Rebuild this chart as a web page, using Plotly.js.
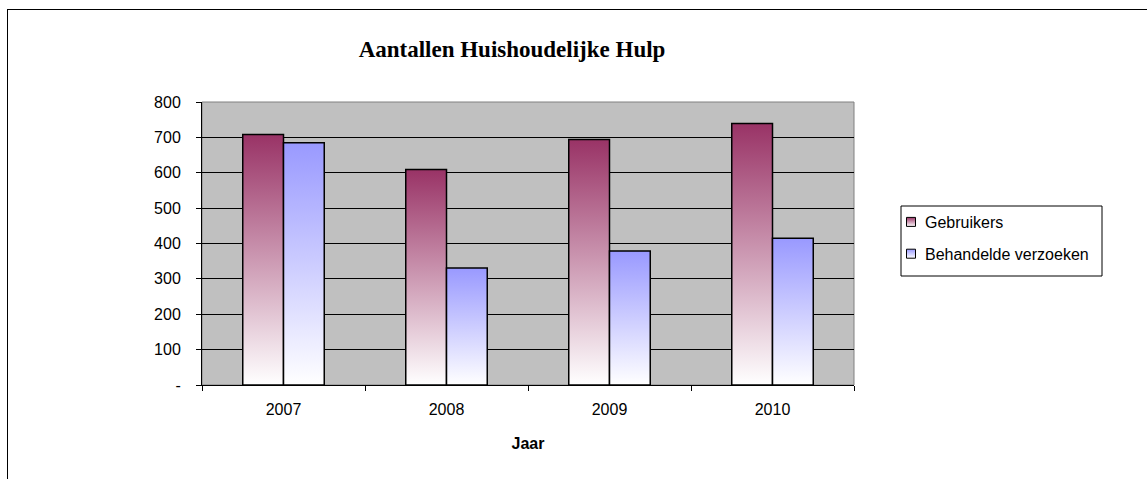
<!DOCTYPE html>
<html>
<head>
<meta charset="utf-8">
<script src="https://cdn.plot.ly/plotly-3.0.1.min.js"></script>
<style>
  html, body { margin: 0; padding: 0; background: #fff; }
  #chart { width: 1147px; height: 479px; position: relative; }
  #frame { position: absolute; left: 7px; top: 9px; width: 1200px; height: 600px;
           border-left: 1px solid #000; border-top: 1px solid #000; pointer-events: none; }
</style>
</head>
<body>
<div id="chart"></div>
<div id="frame"></div>
<script>
const years = ['2007', '2008', '2009', '2010'];
const gebruikers = [708, 609, 694, 739];
const behandeldeVerzoeken = [685, 331, 379, 415];
const yTickVals = [0, 100, 200, 300, 400, 500, 600, 700, 800];
const yTickText = ['-', '100', '200', '300', '400', '500', '600', '700', '800'];

const sans = 'Liberation Sans, Arial, sans-serif';

const traces = [
  {
    type: 'bar', name: 'Gebruikers', x: years, y: gebruikers,
    marker: { color: '#993366', line: { color: '#000', width: 1.5 } },
    legendgroup: 'g1', hoverinfo: 'x+y'
  },
  {
    type: 'bar', name: 'Behandelde verzoeken', x: years, y: behandeldeVerzoeken,
    marker: { color: '#9999FF', line: { color: '#000', width: 1.5 } },
    legendgroup: 'g2', hoverinfo: 'x+y'
  }
];

const layout = {
  width: 1147, height: 479,
  margin: { l: 202, r: 293, t: 102, b: 94 },
  paper_bgcolor: '#ffffff',
  plot_bgcolor: '#C0C0C0',
  barmode: 'group', bargap: 0.5, bargroupgap: 0,
  font: { family: sans, size: 16, color: '#000' },
  title: {
    text: '<b>Aantallen Huishoudelijke Hulp</b>',
    font: { family: 'Liberation Serif, Times New Roman, serif', size: 23, color: '#000' },
    x: 512 / 1147, xanchor: 'center', y: 1 - 49 / 479, yanchor: 'middle',
    xref: 'container', yref: 'container'
  },
  xaxis: {
    type: 'category',
    tickson: 'boundaries', ticks: 'outside', ticklen: 5, tickcolor: '#000', tickwidth: 1,
    showline: true, linecolor: '#000', linewidth: 1,
    showgrid: false, zeroline: false,
    tickfont: { family: sans, size: 16 },
    ticklabelstandoff: 10,
    title: { text: '<b>Jaar</b>', font: { family: sans, size: 16 }, standoff: 20 }
  },
  yaxis: {
    range: [0, 800], tickvals: yTickVals, ticktext: yTickText,
    ticks: 'outside', ticklen: 5, tickcolor: '#000', tickwidth: 1,
    showline: true, linecolor: '#000', linewidth: 1,
    showgrid: true, gridcolor: '#000', gridwidth: 1, zeroline: false,
    tickfont: { family: sans, size: 16 },
    ticklabelstandoff: 12
  },
  legend: {
    x: (885 - 202) / 652, xanchor: 'left',
    y: (385 - 205) / 283, yanchor: 'top',
    bgcolor: 'rgba(0,0,0,0)', borderwidth: 0,
    font: { family: sans, size: 16 },
    traceorder: 'grouped', tracegroupgap: 8
  },
  shapes: [
    { type: 'rect', xref: 'paper', yref: 'paper', x0: 0, x1: 1, y0: 0, y1: 1,
      line: { color: '#808080', width: 1 }, layer: 'below' },
    { type: 'rect', xref: 'paper', yref: 'paper',
      x0: (901 - 202) / 652, x1: (1102 - 202) / 652,
      y0: (385 - 276) / 283, y1: (385 - 206) / 283,
      line: { color: '#000', width: 1 }, fillcolor: '#fff', layer: 'below' }
  ],
  showlegend: true
};

function addGradients(gd) {
  const svg = gd.querySelector('svg.main-svg');
  if (!svg) return;
  const ns = 'http://www.w3.org/2000/svg';
  let defs = svg.querySelector('defs');
  if (!defs) { defs = document.createElementNS(ns, 'defs'); svg.insertBefore(defs, svg.firstChild); }
  const specs = [['gradG', '#993366'], ['gradB', '#9999FF']];
  specs.forEach(([id, col]) => {
    if (svg.querySelector('#' + id)) return;
    const lg = document.createElementNS(ns, 'linearGradient');
    lg.setAttribute('id', id);
    lg.setAttribute('x1', '0'); lg.setAttribute('y1', '0');
    lg.setAttribute('x2', '0'); lg.setAttribute('y2', '1');
    const s1 = document.createElementNS(ns, 'stop');
    s1.setAttribute('offset', '0'); s1.setAttribute('stop-color', col);
    const s2 = document.createElementNS(ns, 'stop');
    s2.setAttribute('offset', '1'); s2.setAttribute('stop-color', '#ffffff');
    lg.appendChild(s1); lg.appendChild(s2);
    defs.appendChild(lg);
  });
  const ids = ['gradG', 'gradB'];
  gd.querySelectorAll('.barlayer .trace').forEach((t, i) => {
    t.querySelectorAll('path').forEach(p => { p.style.fill = 'url(#' + ids[i] + ')'; });
  });
  gd.querySelectorAll('.legend .traces').forEach((t, i) => {
    t.querySelectorAll('.legendpoints path').forEach(p => {
      p.style.fill = 'url(#' + ids[i] + ')';
      p.style.stroke = '#000';
      p.style.strokeWidth = '1px';
      if (!p.dataset.resized) {
        const tr = p.getAttribute('transform') || '';
        p.setAttribute('transform', tr + ' translate(6,0)');
        p.setAttribute('d', 'M4.5,4.5H-4.5V-4.5H4.5Z');
        p.dataset.resized = '1';
      }
    });
  });
}

const gd = document.getElementById('chart');
Plotly.newPlot(gd, traces, layout, { displayModeBar: false, staticPlot: true }).then(() => {
  addGradients(gd);
  gd.on('plotly_afterplot', () => addGradients(gd));
});
</script>
</body>
</html>
